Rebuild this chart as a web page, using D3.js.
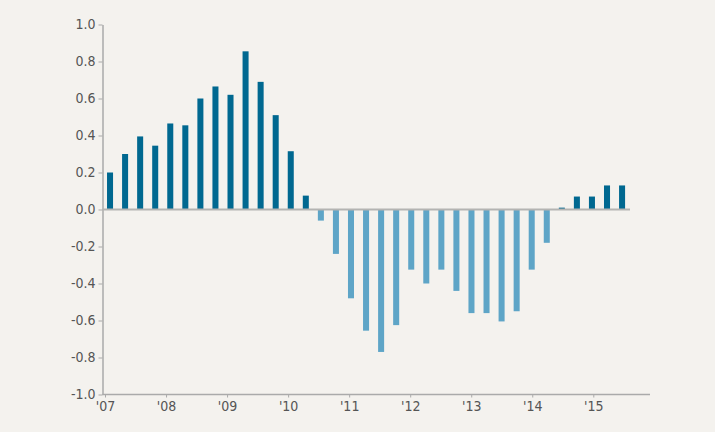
<!DOCTYPE html>
<html>
<head>
<meta charset="utf-8">
<script src="https://cdn.jsdelivr.net/npm/d3@7"></script>
<style>
  html, body { margin: 0; padding: 0; background: #f4f2ee; }
  svg { display: block; }
  .tick text { font-family: "DejaVu Sans Condensed", "DejaVu Sans", sans-serif; font-size: 14px; fill: #555; }
</style>
</head>
<body>
<svg width="715" height="432"></svg>
<script>
// quarterly values, 2007 Q1 .. 2015 Q3
var quarters = [];
for (var yr = 2007; yr <= 2015; yr++) {
  for (var q = 1; q <= 4; q++) {
    if (yr === 2015 && q === 4) break;
    quarters.push(yr + 'Q' + q);
  }
}
var values = [
  0.20, 0.30, 0.395, 0.345, 0.465, 0.455, 0.60, 0.665, 0.62, 0.855, 0.69, 0.51, 0.315, 0.075,
  -0.06, -0.24, -0.48, -0.655, -0.77, -0.625, -0.325, -0.40, -0.325, -0.44, -0.56, -0.56, -0.605, -0.55, -0.325, -0.18,
  0.01, 0.07, 0.07, 0.13, 0.13
];
var yTicks = [-1.0, -0.8, -0.6, -0.4, -0.2, 0.0, 0.2, 0.4, 0.6, 0.8, 1.0];
var yearTicks = [2007, 2008, 2009, 2010, 2011, 2012, 2013, 2014, 2015];

var svg = d3.select('svg');

var y = d3.scaleLinear().domain([-1, 1]).range([394.5, 24.5]);
var x = d3.scaleBand()
  .domain(quarters)
  .range([102.5, 629.6])
  .paddingInner(0.6)
  .paddingOuter(0.3);
var xYear = d3.scaleLinear().domain([2007, 2015]).range([105, 593.3]);

// y axis
var yAxis = svg.append('g')
  .attr('transform', 'translate(102.5,0)')
  .call(d3.axisLeft(y).tickValues(yTicks).tickSize(4).tickSizeOuter(0).tickPadding(3)
    .tickFormat(function (d) { return d.toFixed(1).replace('-0.0', '0.0'); }));
yAxis.select('.domain').attr('stroke', '#aaa').attr('stroke-width', 1.5);
yAxis.selectAll('.tick line').attr('stroke', '#aaa');

// x axis
var xAxis = svg.append('g')
  .attr('transform', 'translate(0,394.5)')
  .call(d3.axisBottom(xYear).tickValues(yearTicks).tickSize(3).tickPadding(4)
    .tickFormat(function (d) { return "'" + String(d).slice(2); }));
xAxis.select('.domain').remove();
xAxis.selectAll('.tick line').attr('stroke', '#aaa');
xAxis.append('line')
  .attr('x1', 102.5).attr('x2', 650)
  .attr('stroke', '#aaa').attr('stroke-width', 1.5);

// bars
svg.append('g')
  .selectAll('rect')
  .data(values)
  .enter()
  .append('rect')
  .attr('x', function (d, i) { return x(quarters[i]); })
  .attr('width', x.bandwidth())
  .attr('y', function (d) { return d >= 0 ? y(d) : y(0); })
  .attr('height', function (d) { return Math.abs(y(d) - y(0)); })
  .attr('fill', function (d) { return d >= 0 ? '#006890' : '#5ea5c7'; });

// zero line
svg.append('line')
  .attr('x1', 102.5).attr('x2', 630)
  .attr('y1', y(0)).attr('y2', y(0))
  .attr('stroke', '#b4b4b2').attr('stroke-width', 2);
</script>
</body>
</html>
